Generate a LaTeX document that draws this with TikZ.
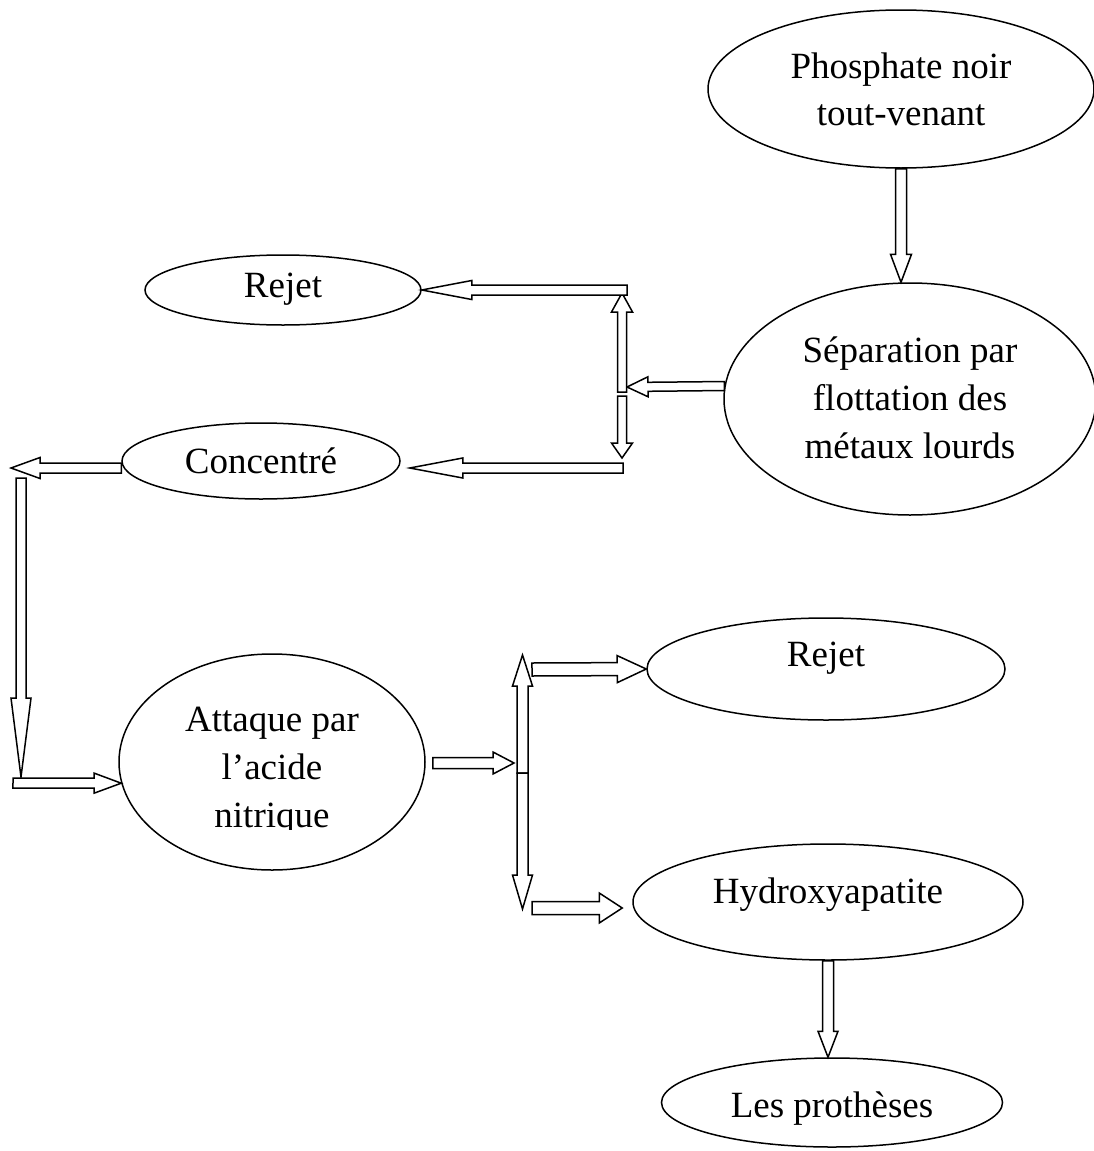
\documentclass[tikz,border=0pt]{standalone}
\usepackage{fontspec}
\setmainfont{Liberation Serif}
\usetikzlibrary{shapes.geometric,calc}

% Hollow block arrow: tail, tip, half shaft width, half head width, head length
\newcommand\blockarrow[5]{%
  \path (#1) coordinate (ba-tail) (#2) coordinate (ba-tip);
  \path ($(ba-tip)!#5!(ba-tail)$) coordinate (ba-neck);
  \draw[blockline]
    ($(ba-tail)!#3!90:(ba-tip)$) -- ($(ba-neck)!#3!90:(ba-tip)$) --
    ($(ba-neck)!#4!90:(ba-tip)$) -- (ba-tip) --
    ($(ba-neck)!#4!-90:(ba-tip)$) -- ($(ba-neck)!#3!-90:(ba-tip)$) --
    ($(ba-tail)!#3!-90:(ba-tip)$) -- cycle;
}

\begin{document}
\begin{tikzpicture}[x=1pt,y=-1pt,
  oval/.style={ellipse,draw,line width=1.5pt,inner sep=0pt},
  lbl/.style={align=center,inner sep=0pt,font=\fontsize{37}{48}\selectfont},
  blockline/.style={draw,fill=white,line width=1.5pt,line join=miter}]

\fill[white] (0,0) rectangle (1094,1151);
\useasboundingbox (0,0) rectangle (1094,1151);

% process stages
\node[oval,minimum width=386pt,minimum height=158pt] (phos) at (901,89) {};
\node[oval,minimum width=372pt,minimum height=232pt] (sep) at (910,399) {};
\node[oval,minimum width=276pt,minimum height=70pt] (rej1) at (283,290) {};
\node[oval,minimum width=278pt,minimum height=76pt] (conc) at (261,461) {};
\node[oval,minimum width=306pt,minimum height=216pt] (att) at (272,762) {};
\node[oval,minimum width=358pt,minimum height=102pt] (rej2) at (826,669) {};
\node[oval,minimum width=390pt,minimum height=116pt] (hyd) at (828,902) {};
\node[oval,minimum width=341pt,minimum height=89pt] (pro) at (832,1102.5) {};

% stage labels
\node[lbl,font=\fontsize{37}{47}\selectfont] (tphos) at (901,89) {Phosphate noir\\tout-venant};
\node[lbl] (tsep) at (910,398) {Séparation par\\flottation des\\métaux lourds};
\node[lbl] (trej1) at (283,289) {Rejet};
\node[lbl] (tconc) at (261,461) {Concentré};
\begin{scope}
  % the last line of this label is cut off by its text frame
  \clip (140,680) rectangle (410,829);
  \node[lbl] (tatt) at (272,771) {Attaque par\\l’acide\\nitrique};
\end{scope}
\node[lbl] (trej2) at (826,658) {Rejet};
\node[lbl] (thyd) at (828,895) {Hydroxyapatite};
\node[lbl] (tpro) at (832,1109) {Les prothèses};

% junction points and free ends
\coordinate (j1up) at (622,293);
\coordinate (j1c) at (622,392);
\coordinate (j1c2) at (622,396);
\coordinate (j1dn) at (622,458);
\coordinate (j1in) at (627,387);
\coordinate (j1tl) at (627,290);
\coordinate (j1bl) at (623,468);
\coordinate (cl) at (11,468);
\coordinate (ctop) at (21,478);
\coordinate (cbot) at (21,777);
\coordinate (cin) at (13,783);
\coordinate (j2in) at (514,763);
\coordinate (j2c) at (522.5,773);
\coordinate (j2up) at (522.5,655);
\coordinate (j2dn) at (522.5,909);
\coordinate (j2r1) at (532,669.5);
\coordinate (j2r2) at (532,908);

% flow arrows
\blockarrow{phos.south}{phos.south |- sep.north}{5.5pt}{10.5pt}{28pt}
\blockarrow{sep.176}{j1in}{4.5pt}{10pt}{21pt}
\blockarrow{j1c}{j1up}{4.5pt}{10.5pt}{19pt}
\blockarrow{j1c2}{j1dn}{4.5pt}{10.5pt}{15pt}
\blockarrow{j1tl}{rej1.east}{5pt}{9.5pt}{50pt}
\blockarrow{j1bl}{$(conc.east)+(9,7)$}{5pt}{10pt}{53pt}
\blockarrow{conc.west |- j1bl}{cl}{5pt}{10.5pt}{29pt}
\blockarrow{ctop}{cbot}{5pt}{10pt}{79pt}
\blockarrow{cin}{att.188}{5pt}{10pt}{27pt}
\blockarrow{$(att.east)+(7,1)$}{j2in}{5.5pt}{11pt}{21pt}
\blockarrow{j2c}{j2up}{5.5pt}{10pt}{31pt}
\blockarrow{j2c}{j2dn}{5.5pt}{10pt}{34pt}
\blockarrow{j2r1}{rej2.west}{6.5pt}{13.5pt}{29pt}
\blockarrow{j2r2}{$(hyd.west)+(-10,6)$}{6.5pt}{15pt}{23pt}
\blockarrow{hyd.south}{hyd.south |- pro.north}{5.5pt}{10pt}{26pt}

\end{tikzpicture}
\end{document}
